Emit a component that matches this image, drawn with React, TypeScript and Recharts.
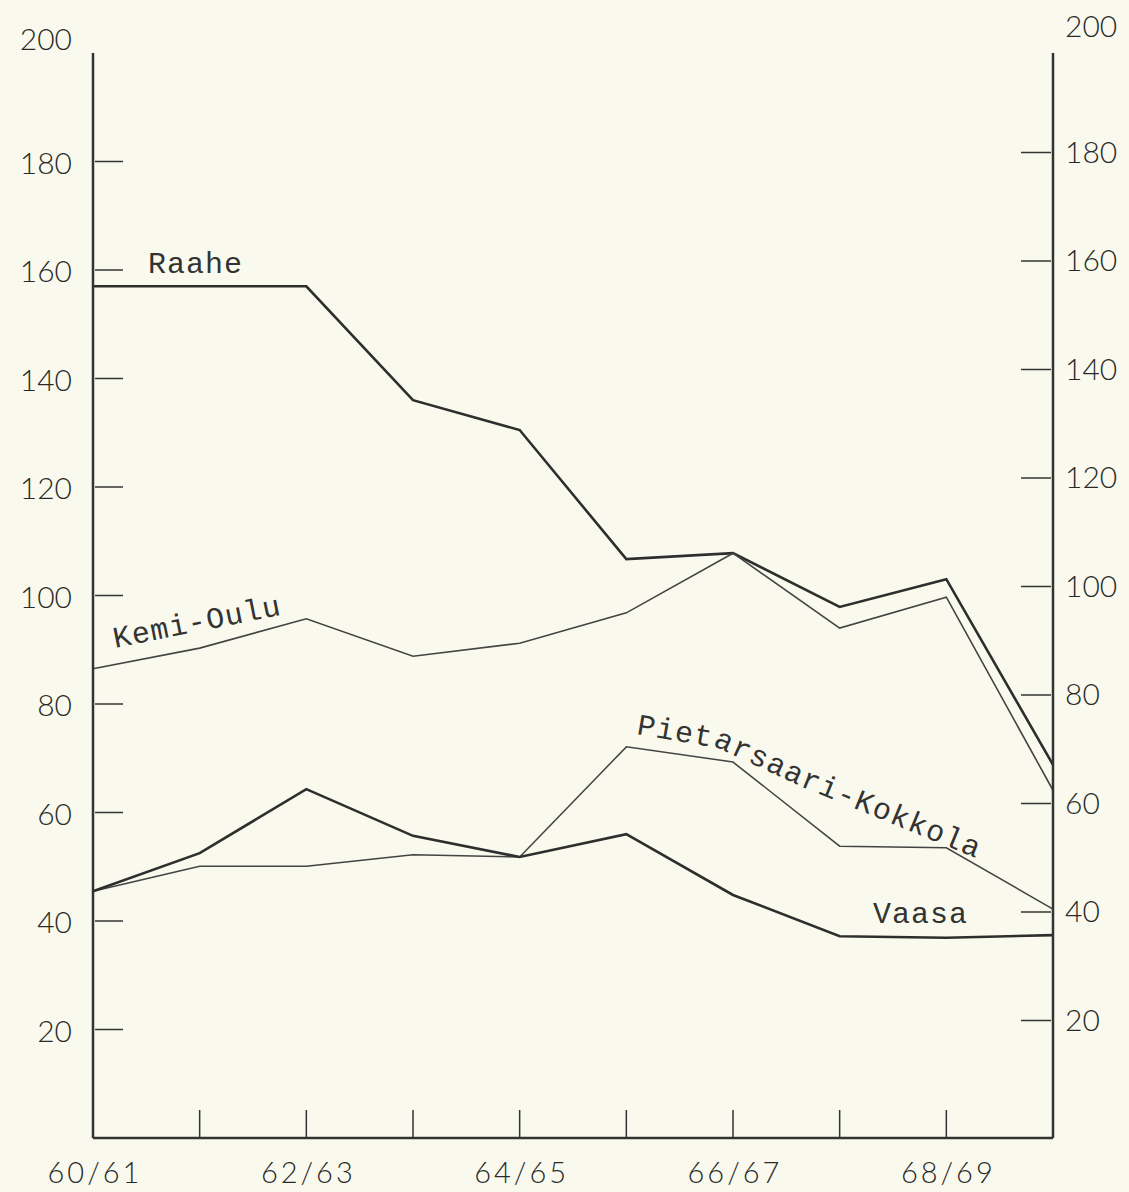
import { LineChart, Line, XAxis, YAxis } from "recharts";

// harbour seasons, 1960/61 .. 1969/70
const seasons = ["60/61", "61/62", "62/63", "63/64", "64/65", "65/66", "66/67", "67/68", "68/69", "69/70"];
const raahe = [157, 157, 157, 136, 130.5, 106.7, 107.8, 97.9, 103, 68.8];
const kemiOulu = [86.5, 90.3, 95.7, 88.8, 91.2, 96.8, 107.8, 94, 99.7, 64.1];
const pietarsaari = [45.5, 50.1, 50.1, 52.2, 51.8, 72.1, 69.3, 53.8, 53.5, 42.2];
const vaasa = [45.5, 52.5, 64.3, 55.7, 51.8, 56, 44.8, 37.2, 36.9, 37.4];
const yTicks = [20, 40, 60, 80, 100, 120, 140, 160, 180, 200];
const labelledSeasons = ["60/61", "62/63", "64/65", "66/67", "68/69"];

const data = seasons.map((s, i) => ({
  season: s,
  raahe: raahe[i],
  kemi: kemiOulu[i],
  pietarsaari: pietarsaari[i],
  vaasa: vaasa[i],
}));

const INK = "#333";
const NUM_FONT = "Lato, 'DejaVu Sans', sans-serif";
const TYPE_FONT = "'Liberation Mono', 'DejaVu Sans Mono', monospace";

function LeftTick({ x, y, payload }: any) {
  const top = payload.value === 200;
  return (
    <g>
      {!top && <line x1={x + 2} x2={x + 30} y1={y} y2={y} stroke={INK} strokeWidth={1.5} />}
      <text x={x - 21} y={top ? y - 15 : y} textAnchor="end" dominantBaseline="central"
        fontFamily={NUM_FONT} fontWeight={300} fontSize={30} fill="#2a2a2a">
        {payload.value}
      </text>
    </g>
  );
}

// the scanned right scale sits a little higher than the left one
function RightTick({ x, y, payload }: any) {
  const top = payload.value === 200;
  return (
    <g>
      {!top && <line x1={x - 32} x2={x - 2} y1={y - 9} y2={y - 9} stroke={INK} strokeWidth={1.5} />}
      <text x={x + 12} y={top ? y - 28 : y - 11} textAnchor="start" dominantBaseline="central"
        fontFamily={NUM_FONT} fontWeight={300} fontSize={30} fill="#2a2a2a">
        {payload.value}
      </text>
    </g>
  );
}

function BottomTick({ x, y, payload, index }: any) {
  const inner = index > 0 && index < seasons.length - 1;
  return (
    <g>
      {inner && <line x1={x} x2={x} y1={y - 28} y2={y} stroke={INK} strokeWidth={1.5} />}
      {labelledSeasons.includes(payload.value) && (
        <text x={x + 2} y={y + 45} textAnchor="middle" fontFamily={NUM_FONT} fontWeight={300}
          fontSize={29} fill="#2a2a2a" letterSpacing={3}>
          {payload.value}
        </text>
      )}
    </g>
  );
}

export default function App() {
  return (
    <div style={{ position: "absolute", left: 0, top: 0, width: 1129, height: 1192, background: "#f9faed" }}>
      <LineChart width={1129} height={1192} data={data} margin={{ top: 53, right: 0, bottom: 0, left: 0 }}>
        <XAxis dataKey="season" interval={0} padding={{ left: 0, right: 0 }} height={54}
          tickSize={0} tickMargin={0} tick={<BottomTick />} axisLine={{ stroke: INK, strokeWidth: 2.5 }} />
        <YAxis yAxisId="left" domain={[0, 200]} ticks={yTicks} interval={0} width={93} tickSize={0}
          tickMargin={0} tick={<LeftTick />} axisLine={{ stroke: INK, strokeWidth: 2.5 }} />
        <YAxis yAxisId="right" orientation="right" domain={[0, 200]} ticks={yTicks} interval={0} width={76}
          tickSize={0} tickMargin={0} tick={<RightTick />} axisLine={{ stroke: INK, strokeWidth: 2.5 }} />
        <Line yAxisId="left" dataKey="raahe" stroke="#2e2e2e" strokeWidth={2.6} dot={false} isAnimationActive={false} />
        <Line yAxisId="right" dataKey="kemi" stroke="#444" strokeWidth={1.6} dot={false} isAnimationActive={false} />
        <Line yAxisId="right" dataKey="pietarsaari" stroke="#444" strokeWidth={1.5} dot={false} isAnimationActive={false} />
        <Line yAxisId="left" dataKey="vaasa" stroke="#2e2e2e" strokeWidth={2.6} dot={false} isAnimationActive={false} />
      </LineChart>
      {/* typed series labels */}
      <svg width={1129} height={1192} style={{ position: "absolute", left: 0, top: 0, pointerEvents: "none" }}>
        <defs>
          <path id="pk-path" d="M636,734 L718,748 L800,786 L995,866" />
        </defs>
        <g fontFamily={TYPE_FONT} fontSize={30} fill="#333" letterSpacing={1}>
          <text x={148} y={273}>Raahe</text>
          <text x={115} y={648} transform="rotate(-11.3 115 648)">Kemi-Oulu</text>
          <text letterSpacing={1.2}>
            <textPath href="#pk-path">Pietarsaari-Kokkola</textPath>
          </text>
          <text x={873} y={923}>Vaasa</text>
        </g>
      </svg>
    </div>
  );
}
